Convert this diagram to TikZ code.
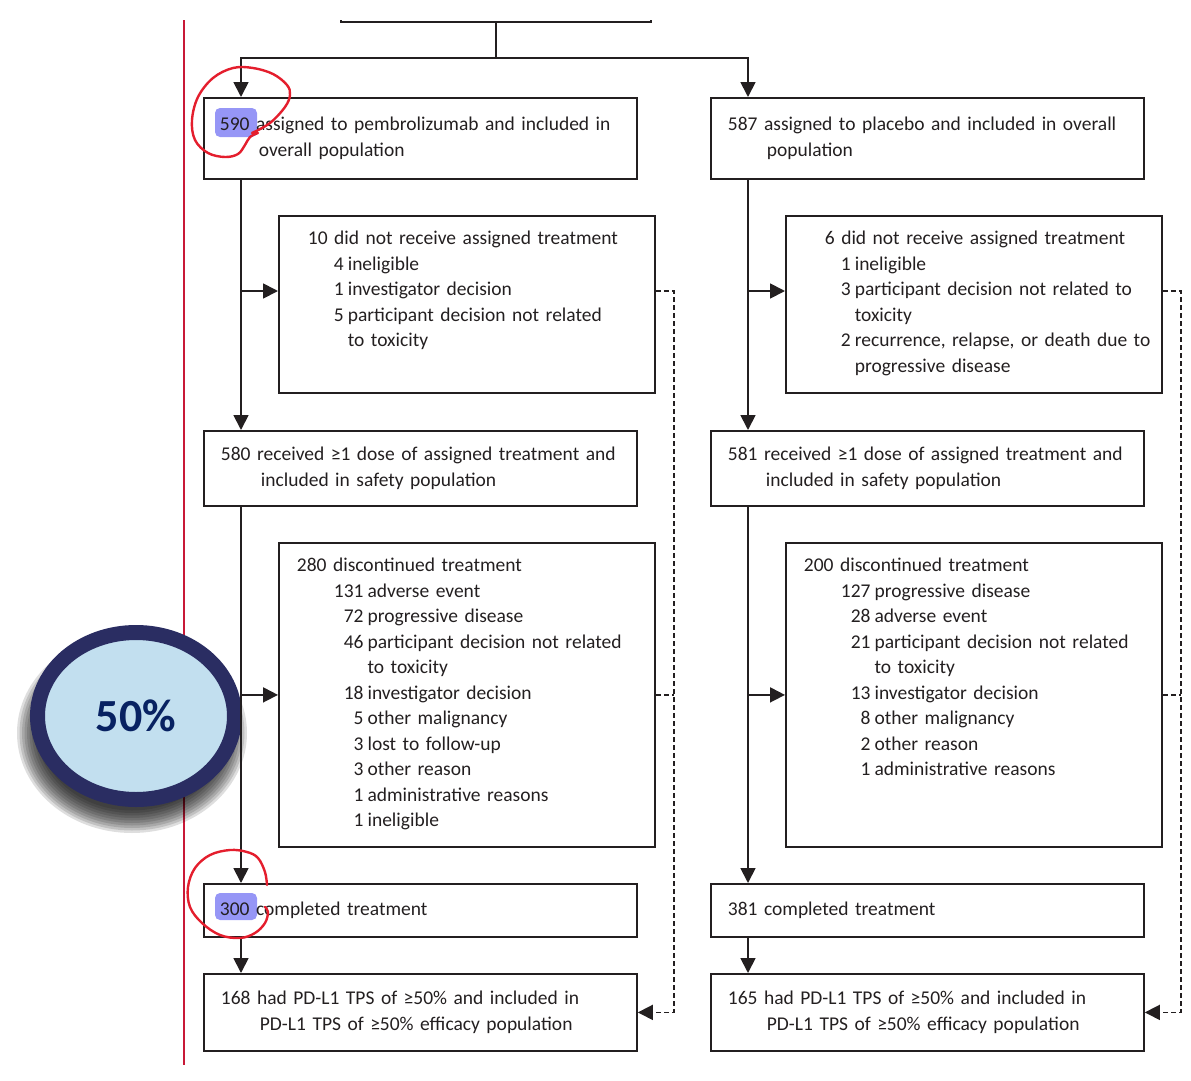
\documentclass[tikz,border=0pt]{standalone}
\usepackage{fontspec}
\setmainfont{Carlito}
\usetikzlibrary{arrows.meta,calc,shapes.geometric}

\definecolor{ringnavy}{RGB}{42,45,98}
\definecolor{ringfill}{RGB}{194,223,239}
\definecolor{pctnavy}{RGB}{8,34,98}
\definecolor{hlblue}{RGB}{150,150,246}
\definecolor{penred}{RGB}{228,30,45}
\definecolor{marginred}{RGB}{200,25,55}
\definecolor{ink}{RGB}{35,31,32}

\newcommand{\flowfont}{\fontsize{19.5bp}{25.5bp}\selectfont}

\tikzset{
  flowbox/.style={draw=ink, line width=1.8bp, anchor=north west,
                  inner xsep=0pt, inner ysep=0pt, text width=433bp, minimum height=#1},
  listbox/.style={draw=ink, line width=1.8bp, anchor=north west,
                  inner sep=0pt, text width=376bp, text height=29bp, text depth=#1},
  link/.style={draw=ink, line width=1.8bp},
  arr/.style={link, -{Triangle[length=15bp,width=15bp]}},
  dashlink/.style={draw=ink, line width=1.6bp, dash pattern=on 5bp off 3bp},
  pen/.style={penred, line width=2.4bp, line cap=round},
}

\begin{document}
\begin{tikzpicture}[x=1bp, y=-1bp, text=ink, font=\flowfont]
\useasboundingbox (0,0) rectangle (1191,1081);

% margin rule
\draw[marginred, line width=1.2bp] (184,20) -- (184,1065);

% 50% badge
\foreach \k in {0,...,9}
  \fill[black, opacity=0.13] (132,733) ellipse [x radius={115-2.5*\k}, y radius={100-2.5*\k}];
\node[ellipse, draw=ringnavy, line width=15bp, fill=ringfill,
      minimum width=197bp, minimum height=167bp,
      font=\fontsize{46bp}{50bp}\selectfont\bfseries, text=pctnavy] (pct) at (136,716) {50\%};

% highlights
\fill[hlblue, rounded corners=5bp] (215,108) rectangle (257,137);
\fill[hlblue, rounded corners=5bp] (215,893) rectangle (257,920);

% randomisation box (cut off)
\begin{scope}
\clip (0,20) rectangle (1191,1081);
\node[draw=ink, line width=1.8bp, anchor=south west, inner sep=0pt,
      minimum width=310bp, minimum height=60bp] (rand) at (340,23) {};
\end{scope}

% pembrolizumab
\node[flowbox=81bp] (A1) at (203,97)
  {\hspace*{16bp}590 assigned to pembrolizumab and included in\\
   \hspace*{55bp}overall population};
\node[listbox=148bp] (B1) at (278,215)
  {\hspace*{29bp}\begin{tabular}[t]{@{\hspace{26bp}}r@{\hspace{4bp}}l@{}}
   \multicolumn{2}{@{}l@{}}{10 did not receive assigned treatment}\\
   4 & ineligible\\
   1 & investigator decision\\
   5 & participant decision not related\\
     & to toxicity
   \end{tabular}};
\node[flowbox=75bp] (A2) at (203,430)
  {\hspace*{17bp}580 received ≥1 dose of assigned treatment and\\
   \hspace*{57bp}included in safety population};
\node[listbox=275bp] (B2) at (278,542)
  {\hspace*{18bp}\begin{tabular}[t]{@{\hspace{37bp}}r@{\hspace{4bp}}l@{}}
   \multicolumn{2}{@{}l@{}}{280 discontinued treatment}\\
   131 & adverse event\\
   72 & progressive disease\\
   46 & participant decision not related\\
      & to toxicity\\
   18 & investigator decision\\
   5 & other malignancy\\
   3 & lost to follow-up\\
   3 & other reason\\
   1 & administrative reasons\\
   1 & ineligible
   \end{tabular}};
\node[flowbox=53bp] (A3) at (203,883) {\hspace*{16bp}300 completed treatment};
\node[flowbox=77bp] (A4) at (203,973)
  {\hspace*{17bp}168 had PD-L1 TPS of ≥50\% and included in\\
   \hspace*{56bp}PD-L1 TPS of ≥50\% efficacy population};

% placebo
\node[flowbox=81bp] (C1) at (710,97)
  {\hspace*{17bp}587 assigned to placebo and included in overall\\
   \hspace*{56bp}population};
\node[listbox=148bp] (D1) at (785,215)
  {\hspace*{39bp}\begin{tabular}[t]{@{\hspace{16bp}}r@{\hspace{4bp}}l@{}}
   \multicolumn{2}{@{}l@{}}{6 did not receive assigned treatment}\\
   1 & ineligible\\
   3 & participant decision not related to\\
     & toxicity\\
   2 & recurrence, relapse, or death due to\\
     & progressive disease
   \end{tabular}};
\node[flowbox=75bp] (C2) at (710,430)
  {\hspace*{17bp}581 received ≥1 dose of assigned treatment and\\
   \hspace*{55bp}included in safety population};
\node[listbox=275bp] (D2) at (785,542)
  {\hspace*{18bp}\begin{tabular}[t]{@{\hspace{37bp}}r@{\hspace{4bp}}l@{}}
   \multicolumn{2}{@{}l@{}}{200 discontinued treatment}\\
   127 & progressive disease\\
   28 & adverse event\\
   21 & participant decision not related\\
      & to toxicity\\
   13 & investigator decision\\
   8 & other malignancy\\
   2 & other reason\\
   1 & administrative reasons
   \end{tabular}};
\node[flowbox=53bp] (C3) at (710,883) {\hspace*{17bp}381 completed treatment};
\node[flowbox=77bp] (C4) at (710,973)
  {\hspace*{17bp}165 had PD-L1 TPS of ≥50\% and included in\\
   \hspace*{56bp}PD-L1 TPS of ≥50\% efficacy population};

% stems
\path (A1.south west) ++(38,0) coordinate (Ls);
\path (C1.south west) ++(38,0) coordinate (Rs);
\coordinate (fork) at ($(rand.south)+(0,35)$);
\coordinate (B1in) at ([yshift=-76bp]B1.north west);
\coordinate (D1in) at ([yshift=-76bp]D1.north west);

\draw[link] (rand.south) -- (fork);
\draw[arr] (fork) -| (A1.north -| Ls);
\draw[arr] (fork) -| (C1.north -| Rs);

\draw[arr] (A1.south -| Ls) -- (A2.north -| Ls);
\draw[arr] (A2.south -| Ls) -- (A3.north -| Ls);
\draw[arr] (A3.south -| Ls) -- (A4.north -| Ls);
\draw[arr] (Ls |- B1in) -- (B1in);
\draw[arr] (Ls |- B2.west) -- (B2.west);

\draw[arr] (C1.south -| Rs) -- (C2.north -| Rs);
\draw[arr] (C2.south -| Rs) -- (C3.north -| Rs);
\draw[arr] (C3.south -| Rs) -- (C4.north -| Rs);
\draw[arr] (Rs |- D1in) -- (D1in);
\draw[arr] (Rs |- D2.west) -- (D2.west);

% dropouts to efficacy population
\draw[dashlink, -{Triangle[length=15bp,width=15bp]}] (B1in -| B1.east) -- ++(18,0) |- (A4.east);
\draw[dashlink] (B2.east) -- ++(18,0);
\draw[dashlink, -{Triangle[length=15bp,width=15bp]}] (D1in -| D1.east) -- ++(18,0) |- (C4.east);
\draw[dashlink] (D2.east) -- ++(18,0);

% red pen marks
\draw[pen] plot[smooth, tension=0.6] coordinates {(252,133) (270,123) (285,107) (290,95)
  (287,85) (273,74) (253,68) (233,68) (213,78) (198,97) (192,120) (195,140) (208,153)
  (225,157) (238,154) (245,145) (250,137) (258,133)};
\draw[pen] plot[smooth, tension=0.6] coordinates {(267,885) (265,872) (258,858) (247,852)
  (230,850) (210,855) (195,868) (188,887) (190,907) (202,923) (220,935) (240,938)
  (255,933) (265,923) (268,912) (265,907)};
\end{tikzpicture}
\end{document}
